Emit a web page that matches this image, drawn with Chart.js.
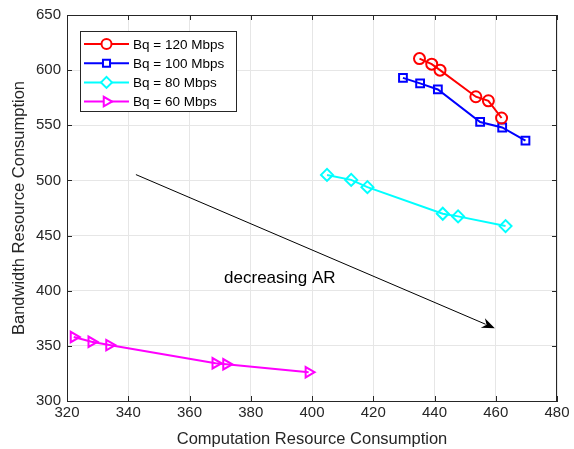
<!DOCTYPE html>
<html>
<head>
<meta charset="utf-8">
<script src="https://cdn.jsdelivr.net/npm/chart.js@4.4.1/dist/chart.umd.min.js"></script>
<style>
  html, body { margin: 0; padding: 0; background: #fff; }
  #wrap { width: 574px; height: 449px; }
</style>
</head>
<body>
<div id="wrap"><canvas id="arChart"></canvas></div>
<script>
// computation (x) / bandwidth (y) for each Bq setting
const compBq120 = [435.1, 439.1, 441.8, 453.5, 457.6, 461.9];
const bwBq120 = [610.5, 605.4, 600.0, 575.9, 572.2, 556.6];

const compBq100 = [429.7, 435.3, 441.1, 454.9, 462.1, 469.7];
const bwBq100 = [593.0, 588.0, 582.5, 553.0, 548.0, 536.0];

const compBq80 = [404.9, 412.8, 418.1, 442.7, 447.7, 463.2];
const bwBq80 = [505.0, 500.5, 493.9, 469.8, 467.4, 458.6];

const compBq60 = [322.2, 328.0, 333.8, 368.5, 372.0, 398.9];
const bwBq60 = [358.0, 353.7, 350.7, 334.2, 333.3, 326.1];

const seriesLabels = ["Bq = 120 Mbps", "Bq = 100 Mbps", "Bq = 80 Mbps", "Bq = 60 Mbps"];
const xTicks = [320, 340, 360, 380, 400, 420, 440, 460, 480];
const yTicks = [300, 350, 400, 450, 500, 550, 600, 650];

// arrow annotation, in data units
const arrowFrom = [342.5, 505.3];
const arrowTo = [459.7, 366.0];
const arrowText = "decreasing AR";
const arrowTextAt = [389.5, 407.0];

const FONT = "'Liberation Sans', Arial, sans-serif";

function pts(xs, ys) {
  return xs.map((x, i) => ({ x: x, y: ys[i] }));
}

function makeSet(label, xs, ys, color, style, radius, rot) {
  return {
    label: label,
    data: pts(xs, ys),
    borderColor: color,
    backgroundColor: "rgba(0,0,0,0)",
    borderWidth: 2,
    pointStyle: style,
    pointRadius: radius,
    pointHoverRadius: radius,
    pointBorderWidth: 2,
    pointBorderColor: color,
    pointBackgroundColor: "rgba(0,0,0,0)",
    pointRotation: rot || 0,
    showLine: true,
    fill: false,
  };
}

const datasets = [
  makeSet(seriesLabels[0], compBq120, bwBq120, "#ff0000", "circle", 5.5),
  makeSet(seriesLabels[1], compBq100, bwBq100, "#0000ff", "rect", 5.5),
  makeSet(seriesLabels[2], compBq80, bwBq80, "#00ffff", "rectRot", 6),
  makeSet(seriesLabels[3], compBq60, bwBq60, "#ff00ff", "triangle", 6, 90),
];

// box, inward ticks, arrow and legend
const extras = {
  id: "extras",
  afterDatasetsDraw(chart) {
    const ctx = chart.ctx;
    const a = chart.chartArea;
    const xs = chart.scales.x;
    const ys = chart.scales.y;
    ctx.save();

    // frame
    ctx.strokeStyle = "#262626";
    ctx.lineWidth = 1;
    ctx.strokeRect(Math.round(a.left) + 0.5, Math.round(a.top) + 0.5,
      Math.round(a.right - a.left) - 1, Math.round(a.bottom - a.top));

    // inward tick marks on all four sides
    ctx.beginPath();
    xTicks.forEach((v) => {
      const px = Math.round(xs.getPixelForValue(v)) + 0.5;
      ctx.moveTo(px, a.bottom); ctx.lineTo(px, a.bottom - 5);
      ctx.moveTo(px, a.top); ctx.lineTo(px, a.top + 5);
    });
    yTicks.forEach((v) => {
      const py = Math.round(ys.getPixelForValue(v)) + 0.5;
      ctx.moveTo(a.left, py); ctx.lineTo(a.left + 5, py);
      ctx.moveTo(a.right, py); ctx.lineTo(a.right - 5, py);
    });
    ctx.stroke();

    // arrow
    const x0 = xs.getPixelForValue(arrowFrom[0]);
    const y0 = ys.getPixelForValue(arrowFrom[1]);
    const x1 = xs.getPixelForValue(arrowTo[0]);
    const y1 = ys.getPixelForValue(arrowTo[1]);
    const ang = Math.atan2(y1 - y0, x1 - x0);
    ctx.strokeStyle = "#000";
    ctx.fillStyle = "#000";
    ctx.lineWidth = 1;
    ctx.beginPath();
    ctx.moveTo(x0, y0);
    ctx.lineTo(x1 - 10 * Math.cos(ang), y1 - 10 * Math.sin(ang));
    ctx.stroke();
    ctx.beginPath();
    ctx.moveTo(x1, y1);
    ctx.lineTo(x1 - 14 * Math.cos(ang - 0.38), y1 - 14 * Math.sin(ang - 0.38));
    ctx.lineTo(x1 - 9 * Math.cos(ang), y1 - 9 * Math.sin(ang));
    ctx.lineTo(x1 - 14 * Math.cos(ang + 0.38), y1 - 14 * Math.sin(ang + 0.38));
    ctx.closePath();
    ctx.fill();

    ctx.font = "17px " + FONT;
    ctx.textAlign = "center";
    ctx.textBaseline = "alphabetic";
    ctx.fillText(arrowText, xs.getPixelForValue(arrowTextAt[0]), ys.getPixelForValue(arrowTextAt[1]));

    // legend box
    const lx = 80.5, ly = 31.5, lw = 156, lh = 80;
    ctx.fillStyle = "#fff";
    ctx.fillRect(lx, ly, lw, lh);
    ctx.strokeStyle = "#262626";
    ctx.strokeRect(lx, ly, lw, lh);
    ctx.font = "13.5px " + FONT;
    ctx.textAlign = "left";
    ctx.textBaseline = "middle";
    chart.data.datasets.forEach((ds, i) => {
      const cy = 44 + i * 19.2;
      ctx.strokeStyle = ds.borderColor;
      ctx.lineWidth = 2;
      ctx.beginPath();
      ctx.moveTo(84, cy);
      ctx.lineTo(129, cy);
      ctx.stroke();
      ctx.fillStyle = "#fff";
      Chart.helpers.drawPoint(ctx, {
        pointStyle: ds.pointStyle,
        rotation: ds.pointRotation,
        radius: ds.pointRadius - 0.5,
        borderWidth: 2,
      }, 106.5, cy);
      ctx.fillStyle = "#000";
      ctx.fillText(ds.label, 133, cy + 1);
    });

    ctx.restore();
  },
};

const chart = new Chart(document.getElementById("arChart"), {
  type: "scatter",
  data: { datasets: datasets },
  options: {
    responsive: true,
    maintainAspectRatio: false,
    animation: false,
    events: [],
    layout: { padding: { left: 0, right: 17, top: 13, bottom: 0 } },
    plugins: {
      legend: { display: false },
      tooltip: { enabled: false },
    },
    scales: {
      x: {
        type: "linear",
        min: 320,
        max: 480,
        afterBuildTicks: (s) => { s.ticks = xTicks.map((v) => ({ value: v })); },
        afterFit: (s) => { s.height = 48; },
        grid: { color: "#e6e6e6", drawTicks: false },
        border: { color: "#262626" },
        ticks: { color: "#262626", font: { family: FONT, size: 15 }, padding: 3, maxRotation: 0 },
        title: {
          display: true,
          text: "Computation Resource Consumption",
          color: "#262626",
          font: { family: FONT, size: 16.5 },
          padding: { top: 2, bottom: 0 },
        },
      },
      y: {
        type: "linear",
        min: 300,
        max: 650,
        afterBuildTicks: (s) => { s.ticks = yTicks.map((v) => ({ value: v })); },
        afterFit: (s) => { s.width = 67; },
        grid: { color: "#e6e6e6", drawTicks: false },
        border: { color: "#262626" },
        ticks: { color: "#262626", font: { family: FONT, size: 15 }, padding: 6 },
        title: {
          display: true,
          text: "Bandwidth Resource Consumption",
          color: "#262626",
          font: { family: FONT, size: 16.5 },
          padding: { top: 10, bottom: 2 },
        },
      },
    },
  },
  plugins: [extras],
});
</script>
</body>
</html>
